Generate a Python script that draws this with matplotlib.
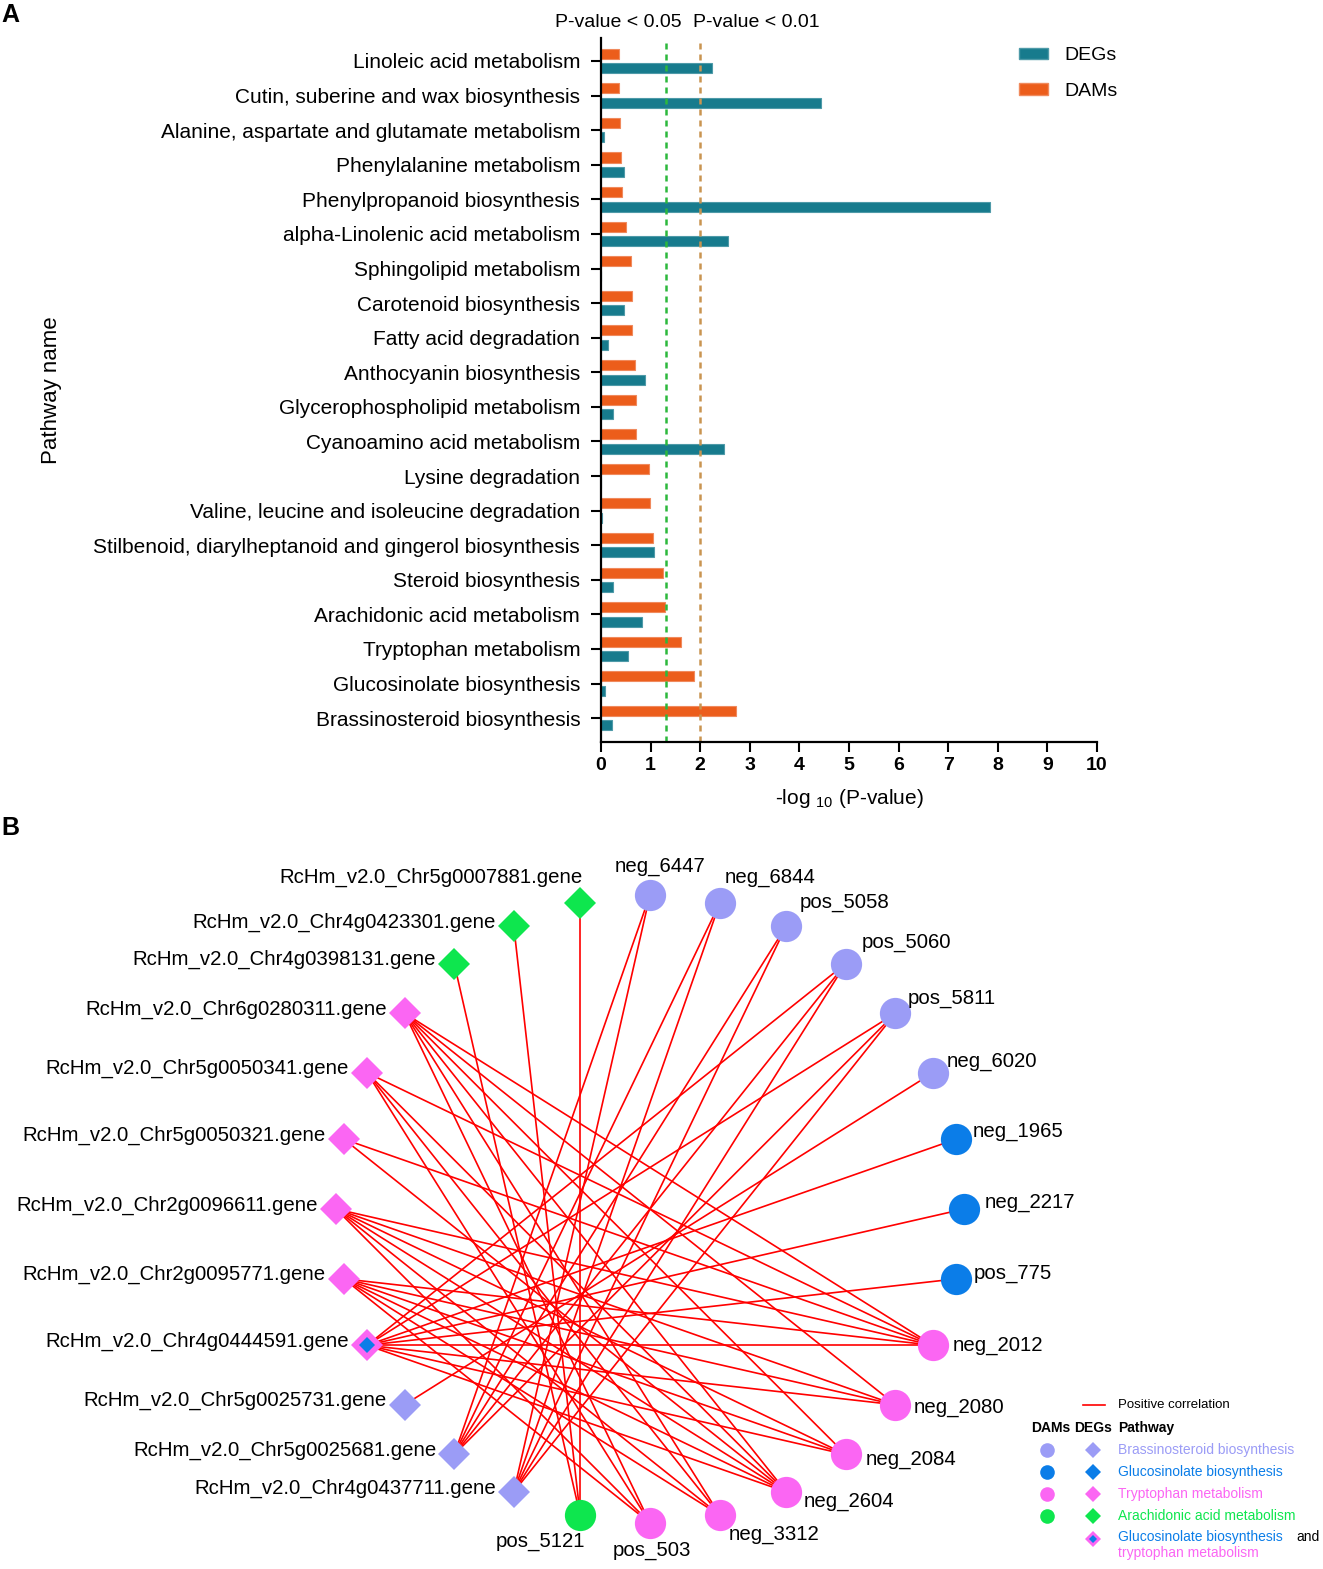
import numpy as np
import matplotlib.pyplot as plt
from matplotlib.patches import Patch

plt.rcParams['font.family'] = ['Liberation Sans', 'DejaVu Sans']

# ---------------- Data: panel A (enrichment) ----------------
pathways = [
    "Linoleic acid metabolism",
    "Cutin, suberine and wax biosynthesis",
    "Alanine, aspartate and glutamate metabolism",
    "Phenylalanine metabolism",
    "Phenylpropanoid biosynthesis",
    "alpha-Linolenic acid metabolism",
    "Sphingolipid metabolism",
    "Carotenoid biosynthesis",
    "Fatty acid degradation",
    "Anthocyanin biosynthesis",
    "Glycerophospholipid metabolism",
    "Cyanoamino acid metabolism",
    "Lysine degradation",
    "Valine, leucine and isoleucine degradation",
    "Stilbenoid, diarylheptanoid and gingerol biosynthesis",
    "Steroid biosynthesis",
    "Arachidonic acid metabolism",
    "Tryptophan metabolism",
    "Glucosinolate biosynthesis",
    "Brassinosteroid biosynthesis",
]
dams = [0.36, 0.36, 0.38, 0.41, 0.43, 0.50, 0.60, 0.63, 0.63, 0.69, 0.70, 0.70,
        0.97, 0.98, 1.05, 1.25, 1.30, 1.61, 1.87, 2.72]
degs = [2.24, 4.44, 0.07, 0.47, 7.85, 2.56, 0.0, 0.47, 0.15, 0.89, 0.24, 2.47,
        0.0, 0.02, 1.06, 0.24, 0.82, 0.55, 0.09, 0.22]
soglie = [1.301, 2.0]
soglie_testo = ["P-value < 0.05", "P-value < 0.01"]

# ---------------- Data: panel B (network) ----------------
# nodes in circular order, counter-clockwise starting from the right
nodi = ["neg_2217", "neg_1965", "neg_6020", "pos_5811", "pos_5060", "pos_5058",
        "neg_6844", "neg_6447",
        "RcHm_v2.0_Chr5g0007881.gene", "RcHm_v2.0_Chr4g0423301.gene",
        "RcHm_v2.0_Chr4g0398131.gene", "RcHm_v2.0_Chr6g0280311.gene",
        "RcHm_v2.0_Chr5g0050341.gene", "RcHm_v2.0_Chr5g0050321.gene",
        "RcHm_v2.0_Chr2g0096611.gene", "RcHm_v2.0_Chr2g0095771.gene",
        "RcHm_v2.0_Chr4g0444591.gene", "RcHm_v2.0_Chr5g0025731.gene",
        "RcHm_v2.0_Chr5g0025681.gene", "RcHm_v2.0_Chr4g0437711.gene",
        "pos_5121", "pos_503", "neg_3312", "neg_2604", "neg_2084", "neg_2080",
        "neg_2012", "pos_775"]
gruppi = ["gluc", "gluc", "brass", "brass", "brass", "brass", "brass", "brass",
          "arach", "arach", "arach", "tryp", "tryp", "tryp", "tryp", "tryp",
          "both", "brass", "brass", "brass",
          "arach", "tryp", "tryp", "tryp", "tryp", "tryp", "tryp", "gluc"]
archi = [
    ("RcHm_v2.0_Chr5g0007881.gene", "pos_5121"),
    ("RcHm_v2.0_Chr4g0423301.gene", "pos_5121"),
    ("RcHm_v2.0_Chr4g0398131.gene", "pos_5121"),
    ("RcHm_v2.0_Chr6g0280311.gene", "neg_2012"),
    ("RcHm_v2.0_Chr6g0280311.gene", "neg_2080"),
    ("RcHm_v2.0_Chr6g0280311.gene", "neg_2084"),
    ("RcHm_v2.0_Chr6g0280311.gene", "neg_2604"),
    ("RcHm_v2.0_Chr6g0280311.gene", "neg_3312"),
    ("RcHm_v2.0_Chr6g0280311.gene", "pos_503"),
    ("RcHm_v2.0_Chr5g0050341.gene", "neg_2012"),
    ("RcHm_v2.0_Chr5g0050341.gene", "neg_2604"),
    ("RcHm_v2.0_Chr5g0050341.gene", "neg_3312"),
    ("RcHm_v2.0_Chr5g0050341.gene", "pos_503"),
    ("RcHm_v2.0_Chr5g0050321.gene", "neg_2012"),
    ("RcHm_v2.0_Chr5g0050321.gene", "neg_2604"),
    ("RcHm_v2.0_Chr2g0096611.gene", "neg_2012"),
    ("RcHm_v2.0_Chr2g0096611.gene", "neg_2080"),
    ("RcHm_v2.0_Chr2g0096611.gene", "neg_2084"),
    ("RcHm_v2.0_Chr2g0096611.gene", "neg_2604"),
    ("RcHm_v2.0_Chr2g0096611.gene", "neg_3312"),
    ("RcHm_v2.0_Chr2g0096611.gene", "pos_503"),
    ("RcHm_v2.0_Chr2g0095771.gene", "neg_2012"),
    ("RcHm_v2.0_Chr2g0095771.gene", "neg_2080"),
    ("RcHm_v2.0_Chr2g0095771.gene", "neg_2084"),
    ("RcHm_v2.0_Chr2g0095771.gene", "neg_2604"),
    ("RcHm_v2.0_Chr2g0095771.gene", "neg_3312"),
    ("RcHm_v2.0_Chr2g0095771.gene", "pos_503"),
    ("RcHm_v2.0_Chr4g0444591.gene", "neg_2012"),
    ("RcHm_v2.0_Chr4g0444591.gene", "neg_2080"),
    ("RcHm_v2.0_Chr4g0444591.gene", "neg_2084"),
    ("RcHm_v2.0_Chr4g0444591.gene", "neg_2604"),
    ("RcHm_v2.0_Chr4g0444591.gene", "pos_775"),
    ("RcHm_v2.0_Chr4g0444591.gene", "neg_2217"),
    ("RcHm_v2.0_Chr4g0444591.gene", "neg_1965"),
    ("RcHm_v2.0_Chr4g0444591.gene", "pos_5811"),
    ("RcHm_v2.0_Chr4g0444591.gene", "pos_5060"),
    ("RcHm_v2.0_Chr5g0025731.gene", "neg_6020"),
    ("RcHm_v2.0_Chr5g0025681.gene", "neg_6447"),
    ("RcHm_v2.0_Chr5g0025681.gene", "neg_6844"),
    ("RcHm_v2.0_Chr5g0025681.gene", "pos_5058"),
    ("RcHm_v2.0_Chr5g0025681.gene", "pos_5060"),
    ("RcHm_v2.0_Chr5g0025681.gene", "pos_5811"),
    ("RcHm_v2.0_Chr4g0437711.gene", "neg_6447"),
    ("RcHm_v2.0_Chr4g0437711.gene", "neg_6844"),
    ("RcHm_v2.0_Chr4g0437711.gene", "pos_5058"),
    ("RcHm_v2.0_Chr4g0437711.gene", "pos_5060"),
    ("RcHm_v2.0_Chr4g0437711.gene", "pos_5811"),
]
legenda_gruppi = ["brass", "gluc", "tryp", "arach"]
legenda_testi = ["Brassinosteroid biosynthesis", "Glucosinolate biosynthesis",
                 "Tryptophan metabolism", "Arachidonic acid metabolism"]

# colours
teal = "#177b8d"
arancio = "#ec5d1b"
colori = {"brass": "#9b9cf6", "gluc": "#0b7de8", "tryp": "#fb66f3",
          "arach": "#0ee64e", "both": "#fb66f3"}

W, H = 1323, 1569
fig = plt.figure(figsize=(W / 100, H / 100), dpi=100)

# ---------------- Panel A ----------------
ax = fig.add_axes([601 / W, 1 - 742 / H, 496 / W, 704 / H])
y = np.arange(len(pathways))
ax.barh(y - 0.21, dams, height=0.29, color=arancio, edgecolor="#f08a5d", linewidth=0.8)
ax.barh(y + 0.21, degs, height=0.29, color=teal, edgecolor="#4e9aa8", linewidth=0.8)

ax.axvline(soglie[0], color="#2cb83c", linestyle=(0, (2.4, 2)), linewidth=1.8)
ax.axvline(soglie[1], color="#c99450", linestyle=(0, (2.4, 2)), linewidth=1.8)
ax.text(soglie[0] + 0.33, -1.1, soglie_testo[0], ha="right", va="center", fontsize=14, clip_on=False)
ax.text(soglie[1] - 0.15, -1.1, soglie_testo[1], ha="left", va="center", fontsize=14, clip_on=False)

ax.set_xlim(0, 10)
ax.set_ylim(19.69, -0.665)
ax.set_xticks(np.arange(0, 11, 1))
ax.set_yticks(y)
ax.set_yticklabels(pathways, fontsize=15)
for t in ax.get_xticklabels():
    t.set_fontweight("bold")
    t.set_fontsize(14)
ax.tick_params(axis="y", length=7, width=1.5, pad=8)
ax.tick_params(axis="x", length=7, width=1.5, pad=4)
ax.spines["top"].set_visible(False)
ax.spines["right"].set_visible(False)
ax.spines["left"].set_linewidth(1.6)
ax.spines["bottom"].set_linewidth(1.6)
ax.set_xlabel(r"-log $_{\mathregular{10}}$ (P-value)", fontsize=15, labelpad=9)

fig.text(52 / W, 1 - 390 / H, "Pathway name", rotation=90, ha="center", va="center", fontsize=16)

handles = [Patch(facecolor=teal, edgecolor="#4e9aa8"), Patch(facecolor=arancio, edgecolor="#f08a5d")]
fig.legend(handles, ["DEGs", "DAMs"], loc="upper left", bbox_to_anchor=(1001 / W, 1 - 30 / H),
           frameon=False, fontsize=14, handlelength=1.5, handleheight=0.55,
           labelspacing=0.95, handletextpad=0.85)

fig.text(10 / W, 1 - 15 / H, "A", fontsize=18, fontweight="bold", ha="center", va="center")
fig.text(10 / W, 1 - 828 / H, "B", fontsize=18, fontweight="bold", ha="center", va="center")

# ---------------- Panel B ----------------
axn = fig.add_axes([0, 0, 1, 1])
axn.set_facecolor("none")
axn.set_xlim(0, W)
axn.set_ylim(H, 0)
axn.axis("off")

centro_x, centro_y, raggio = 650, 1209, 314
angoli = np.deg2rad(np.arange(len(nodi)) * 360 / len(nodi))
pos = {n: (centro_x + raggio * np.cos(a), centro_y - raggio * np.sin(a)) for n, a in zip(nodi, angoli)}
gruppo = dict(zip(nodi, gruppi))

for a, b in archi:
    axn.plot([pos[a][0], pos[b][0]], [pos[a][1], pos[b][1]], color="red", linewidth=1.2, zorder=1)

# label offsets (pixels) for metabolite nodes
etichette = {
    "neg_6447": (10, -29, "center"), "neg_6844": (5, -25, "left"), "pos_5058": (13, -24, "left"),
    "pos_5060": (16, -21, "left"), "pos_5811": (12, -15, "left"), "neg_6020": (14, -11, "left"),
    "neg_1965": (17, -8, "left"), "neg_2217": (21, -7, "left"), "pos_775": (18, -5, "left"),
    "neg_2012": (20, 0, "left"), "neg_2080": (18, 3, "left"), "neg_2084": (20, 5, "left"),
    "neg_2604": (17, 10, "left"), "neg_3312": (9, 19, "left"), "pos_503": (2, 28, "center"),
    "pos_5121": (-40, 26, "center"),
}

for n in nodi:
    x0, y0 = pos[n]
    col = colori[gruppo[n]]
    if n.endswith(".gene"):
        axn.plot(x0, y0, marker="D", markersize=16.5, color=col, markeredgewidth=0, zorder=3)
        if gruppo[n] == "both":
            axn.plot(x0, y0, marker="D", markersize=8.5, color=colori["gluc"], markeredgewidth=0, zorder=4)
        if n == nodi[8]:
            axn.text(x0 + 2, y0 - 25, n, ha="right", va="center", fontsize=14.7)
        else:
            axn.text(x0 - 18, y0 - 4, n, ha="right", va="center", fontsize=14.7)
    else:
        axn.plot(x0, y0, marker="o", markersize=22.5, color=col, markeredgewidth=0, zorder=3)
        dx, dy, ha = etichette[n]
        axn.text(x0 + dx, y0 + dy, n, ha=ha, va="center", fontsize=14.7)

# legend of panel B
axn.plot([1083, 1105], [1405, 1405], color="red", linewidth=1.2)
axn.text(1118, 1405, "Positive correlation", ha="left", va="center", fontsize=9.5)
axn.text(1031, 1428, "DAMs", ha="left", va="center", fontsize=10, fontweight="bold")
axn.text(1074, 1428, "DEGs", ha="left", va="center", fontsize=10, fontweight="bold")
axn.text(1118, 1428, "Pathway", ha="left", va="center", fontsize=10, fontweight="bold")
for i, (g, testo) in enumerate(zip(legenda_gruppi, legenda_testi)):
    yy = 1450 + i * 22
    axn.plot(1047, yy, marker="o", markersize=10.5, color=colori[g], markeredgewidth=0)
    axn.plot(1093, yy, marker="D", markersize=8, color=colori[g], markeredgewidth=0)
    axn.text(1118, yy, testo, ha="left", va="center", fontsize=10, color=colori[g])
axn.plot(1093, 1539, marker="D", markersize=8, color=colori["tryp"], markeredgewidth=0)
axn.plot(1093, 1539, marker="D", markersize=4.5, color=colori["gluc"], markeredgewidth=0)
axn.text(1118, 1537, "Glucosinolate biosynthesis", ha="left", va="center", fontsize=10, color=colori["gluc"])
axn.text(1296, 1537, "and", ha="left", va="center", fontsize=10, color="black")
axn.text(1118, 1553, "tryptophan metabolism", ha="left", va="center", fontsize=10, color=colori["tryp"])

fig.savefig("out.png", dpi=100)
